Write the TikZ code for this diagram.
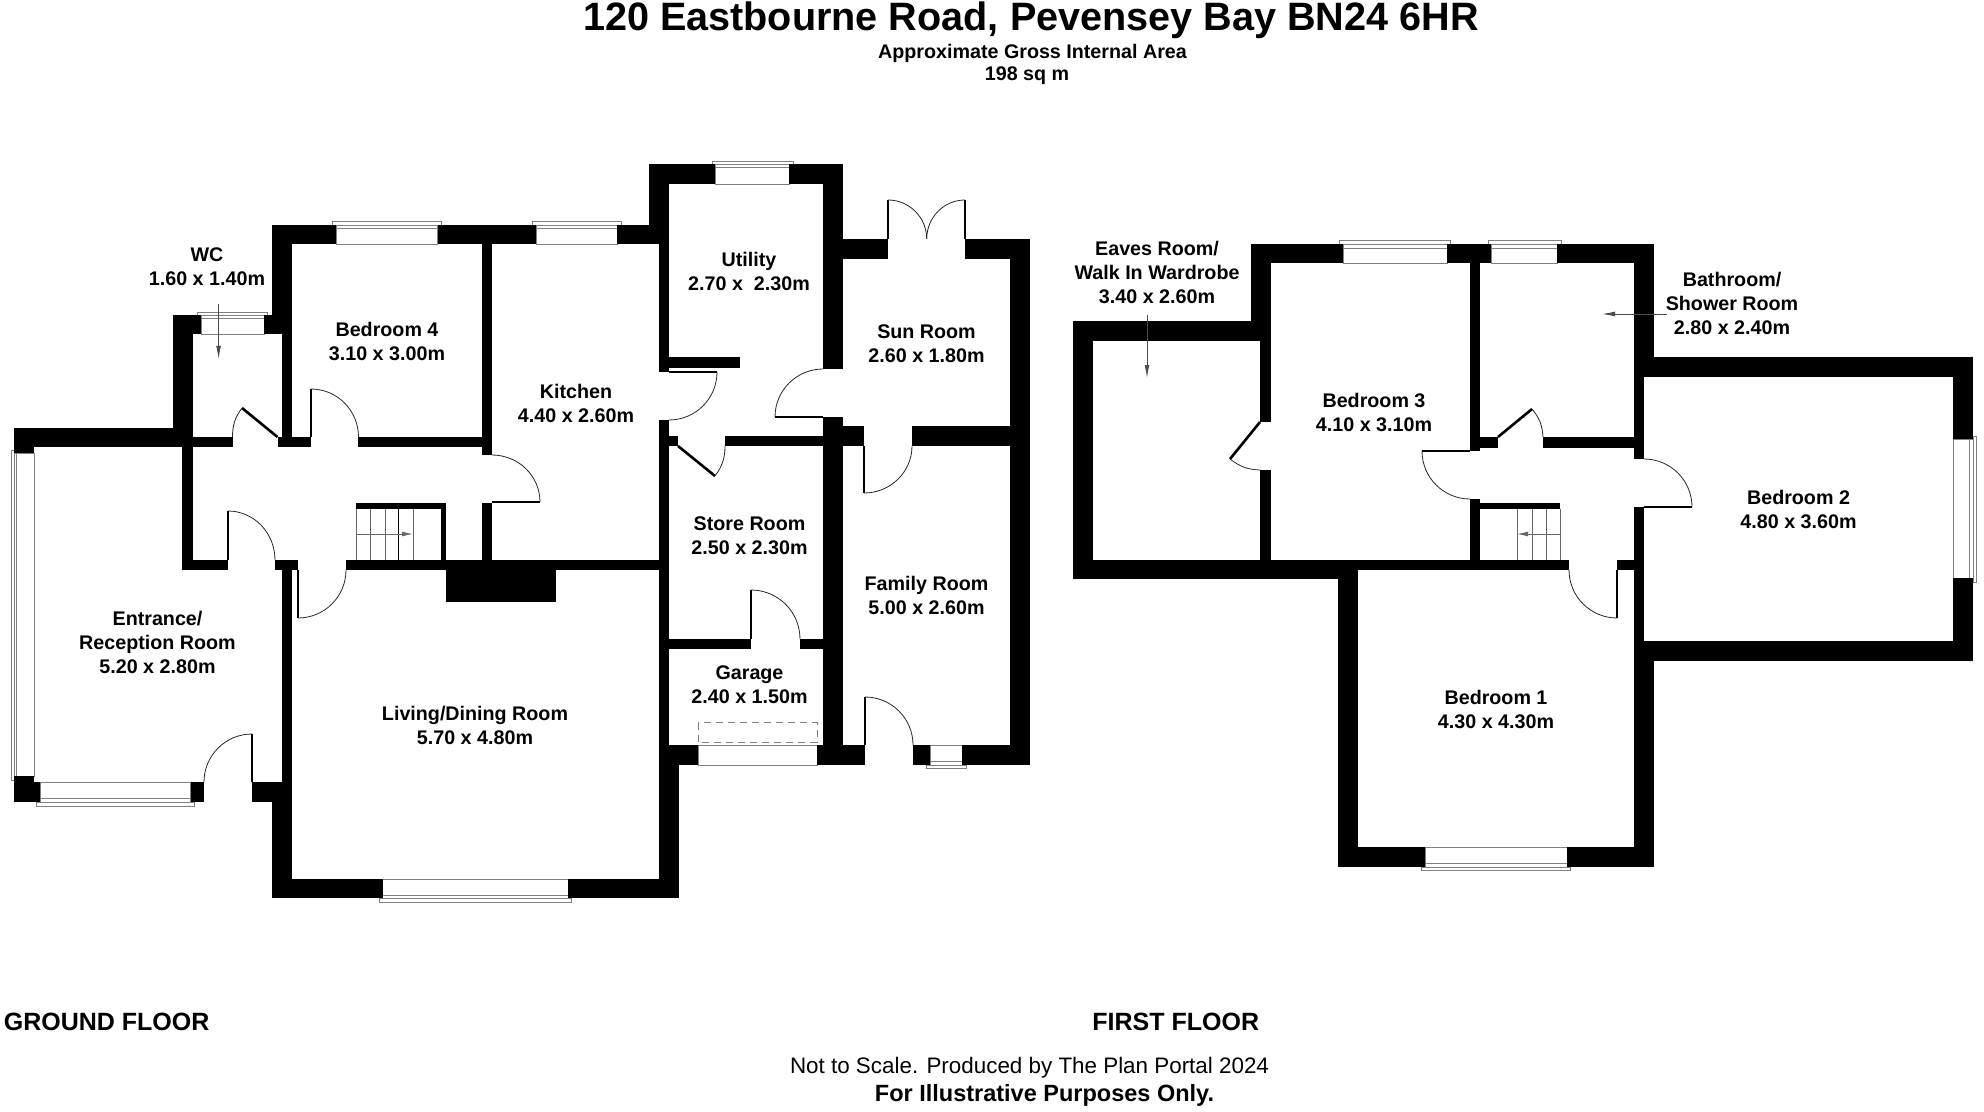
\documentclass[tikz,border=0pt]{standalone}
\usepackage{fontspec}
\setmainfont{Liberation Sans}
\usetikzlibrary{arrows.meta}
\definecolor{fineline}{HTML}{808080}
\newcommand\wall[4]{\fill[black] (#1,#2) rectangle (#3,#4);}
\newcommand\swing[6]{\draw[swingline] (#3,#4) .. controls ({#3+.5523*(#5-#1)},{#4+.5523*(#6-#2)}) and ({#5+.5523*(#3-#1)},{#6+.5523*(#4-#2)}) .. (#5,#6);}
\newcommand\leaf[4]{\draw[leafline] (#1,#2) -- (#3,#4);}
\newcommand\winrect[4]{\draw[winline] (#1,#2) rectangle (#3,#4);}
\newcommand\winline[4]{\draw[winline] (#1,#2) -- (#3,#4);}
\tikzset{
  x=0.5pt,y=-0.5pt,
  room/.style={font=\fontsize{9.85}{12}\selectfont\bfseries,align=center,inner sep=0pt,text=black},
  swingline/.style={line width=0.4pt,black!85},
  leafline/.style={line width=0.8pt,black},
  diagleaf/.style={line width=1.3pt,black},
  winline/.style={line width=0.45pt,fineline},
  stairline/.style={line width=0.45pt,black!60},
  leader/.style={line width=0.4pt,black!70,-{Latex[length=6.5pt,width=2.4pt]}},
  stairarrow/.style={line width=0.4pt,black!60,-{Latex[length=5.5pt,width=2.4pt]}},
}
\begin{document}
\begin{tikzpicture}
\useasboundingbox (0,0) rectangle (1984,1112);
% ---------- windows, ground floor
\winrect{336}{225}{437.5}{244}\winrect{332.5}{221}{441}{225}\winline{336}{228}{437.5}{228}
\winrect{536}{225}{617}{244}\winrect{532.5}{221}{621}{225}\winline{536}{228}{617}{228}
\winrect{201}{315}{264}{334}\winrect{197.5}{312}{267}{315}\winline{201}{318}{264}{318}
\winrect{715}{164}{789}{184}\winrect{712}{161}{793}{164}\winline{715}{167}{789}{167}
\winrect{14}{453}{34}{776}\winrect{11.5}{450}{14.3}{780}\winline{16.5}{453}{16.5}{776}
\winrect{40}{782}{190.6}{802}\winrect{36.6}{802}{194}{806}\winline{40}{798}{190.6}{798}
\winrect{382.6}{879}{568}{898}\winrect{379.5}{898}{571.4}{902}\winline{382.6}{895}{568}{895}
\winrect{698}{745}{817}{765}
\winrect{930}{745}{962}{765}\winrect{926}{765}{966}{768.3}\winline{930}{761.7}{962}{761.7}
\draw[winline,dash pattern=on 3.5pt off 2.5pt] (698,722.7) rectangle (817,742.3);
% ---------- windows, first floor
\winrect{1343}{244}{1447}{263.5}\winrect{1339}{240.7}{1450}{244}\winline{1343}{248}{1447}{248}
\winrect{1491}{244}{1557}{263.5}\winrect{1488}{240.7}{1561}{244}\winline{1491}{248}{1557}{248}
\winrect{1953}{439}{1973}{578}\winrect{1973}{436}{1976.7}{582}\winline{1969.7}{439}{1969.7}{578}
\winrect{1425}{847}{1567}{867}\winrect{1421}{867}{1570.7}{870}\winline{1425}{863}{1567}{863}
% ---------- walls, ground floor
\wall{272}{225}{336}{244}\wall{437.5}{225}{536}{244}\wall{617}{225}{669}{244}
\wall{272}{225}{292}{334}\wall{282}{334}{292}{447}
\wall{172.5}{315}{192.5}{447}\wall{172.5}{315}{201}{334}\wall{264}{315}{282}{334}
\wall{14}{428}{192.5}{447}\wall{14}{447}{34}{453}
\wall{192.5}{437}{232.5}{447}\wall{277.5}{437}{311}{447}\wall{358}{437}{492}{447}
\wall{482}{244}{492}{455}\wall{482}{503}{492}{570}
\wall{182}{447}{192.5}{570}\wall{182}{560}{228}{570}\wall{275}{560}{298}{570}\wall{346}{560}{669}{570}
\wall{446}{570}{556}{602}
\wall{282}{570}{292}{802}\wall{252}{782}{292}{802}\wall{272}{802}{292}{898}
\wall{272}{879}{382.6}{898}\wall{568}{879}{679}{898}\wall{659}{745}{679}{898}
\wall{14}{776}{34}{802}\wall{14}{782}{40}{802}\wall{190.6}{782}{204}{802}
\wall{356}{503}{446}{509}\wall{441}{503}{446}{560}
\wall{649}{164}{715}{184}\wall{789}{164}{843}{184}\wall{649}{164}{669}{244}
\wall{659}{244}{669}{372}\wall{669}{357}{740}{368}\wall{659}{420}{669}{765}
\wall{669}{436}{678}{446}\wall{725}{436}{843}{446}
\wall{823}{164}{843}{369}\wall{823}{417}{843}{765}
\wall{843}{239}{888}{259}\wall{965}{239}{1030}{259}\wall{1010}{239}{1030}{765}
\wall{843}{426}{864}{446}\wall{912}{426}{1010}{446}
\wall{669}{639}{751}{649}\wall{800}{639}{823}{649}
\wall{659}{745}{698}{765}\wall{817}{745}{865}{765}\wall{913}{745}{930}{765}\wall{962}{745}{1030}{765}
% ---------- walls, first floor
\wall{1073}{321}{1093}{579}\wall{1073}{321}{1271}{341}\wall{1251}{244}{1271}{341}
\wall{1260}{341}{1271}{422}\wall{1260}{470}{1271}{560}
\wall{1073}{560}{1338}{579}\wall{1338}{560}{1569}{570}\wall{1617}{560}{1634}{570}
\wall{1338}{570}{1358}{867}\wall{1338}{847}{1425}{867}\wall{1567}{847}{1654}{867}
\wall{1634}{641}{1654}{867}\wall{1634}{507}{1644}{661}
\wall{1251}{244}{1343}{263.5}\wall{1447}{244}{1491}{263.5}\wall{1557}{244}{1654}{263.5}
\wall{1470}{263}{1480}{451}\wall{1480}{437}{1498}{448}\wall{1543}{437}{1634}{448}
\wall{1470}{499}{1480}{560}\wall{1480}{503}{1560}{509}
\wall{1634}{244}{1654}{377}\wall{1634}{357}{1973}{377}\wall{1634}{377}{1644}{459}
\wall{1953}{357}{1973}{439}\wall{1953}{578}{1973}{661}\wall{1634}{641}{1973}{661}
% ---------- doors, ground floor
\draw[diagleaf] (277.5,437) -- (242,408);
\draw[swingline] (242,408) to[bend right=18] (232.5,437);
\leaf{311}{437}{311}{389}\swing{311}{437}{311}{389}{358.5}{437}
\leaf{492}{502}{540}{502}\swing{492}{502}{492}{455}{540}{502}
\leaf{228}{560}{228}{511}\swing{228}{560}{228}{511}{275}{560}
\leaf{298}{570}{298}{618}\swing{298}{570}{298}{618}{346}{570}
\leaf{252}{782}{252}{734}\swing{252}{782}{252}{734}{204}{782}
\leaf{669}{372}{717}{372}\swing{669}{372}{717}{372}{669}{420}
\leaf{823}{417}{775}{417}\swing{823}{417}{775}{417}{823}{369}
\leaf{864}{446}{864}{493}\swing{864}{446}{864}{493}{912}{446}
\leaf{751}{639}{751}{590}\swing{751}{639}{751}{590}{800}{639}
\leaf{888}{239}{888}{200}\swing{888}{239}{888}{200}{926.7}{239}
\leaf{965}{239}{965}{200}\swing{965}{239}{965}{200}{926.7}{239}
\leaf{865}{745}{865}{697}\swing{865}{745}{865}{697}{913}{745}
\draw[diagleaf] (678,446) -- (715,476);
\draw[swingline] (715,476) to[bend right=18] (725,446);
% ---------- doors, first floor
\draw[diagleaf] (1260,422) -- (1230,459);
\draw[swingline] (1230,459) to[bend right=18] (1260,470);
\draw[diagleaf] (1498,437) -- (1532,409);
\draw[swingline] (1532,409) to[bend left=18] (1543,437);
\leaf{1470}{451}{1422}{451}\swing{1470}{451}{1422}{451}{1470}{499}
\leaf{1644}{507}{1692}{507}\swing{1644}{507}{1692}{507}{1644}{459}
\leaf{1617}{570}{1617}{618}\swing{1617}{570}{1617}{618}{1569}{570}
% ---------- stairs
\foreach \sx in {356,370,385,413} \draw[stairline] (\sx,509) -- (\sx,560);
\draw[line width=0.45pt,black] (398.6,509) -- (398.6,560);
\coordinate (gsA) at (356,534); \coordinate (gsB) at (413,534);
\draw[stairarrow] (gsA) -- (gsB);
\foreach \sx in {1517,1532,1546,1560} \draw[stairline] (\sx,509) -- (\sx,560);
\coordinate (fsA) at (1560,534); \coordinate (fsB) at (1517,534);
\draw[stairarrow] (fsA) -- (fsB);
% ---------- leaders
\coordinate (wcA) at (218.6,304); \coordinate (wcB) at (218.6,359);
\draw[leader] (wcA) -- (wcB);
\coordinate (evA) at (1147,315); \coordinate (evB) at (1147,378);
\draw[leader] (evA) -- (evB);
\coordinate (baA) at (1667,314); \coordinate (baB) at (1602,314);
\draw[leader] (baA) -- (baB);
% ---------- room labels
\node[room] (wc) at (207,267) {WC\\1.60 x 1.40m};
\node[room] (bedfour) at (387,341) {Bedroom 4\\3.10 x 3.00m};
\node[room] (kitchen) at (576,403) {Kitchen\\4.40 x 2.60m};
\node[room] (utility) at (749,271) {Utility\\2.70 x\ \ 2.30m};
\node[room] (sun) at (926.5,344) {Sun Room\\2.60 x 1.80m};
\node[room] (store) at (749.5,536) {Store Room\\2.50 x 2.30m};
\node[room] (family) at (926.5,595.5) {Family Room\\5.00 x 2.60m};
\node[room] (garage) at (749.5,684.5) {Garage\\2.40 x 1.50m};
\node[room] (entrance) at (157.5,642) {Entrance/\\Reception Room\\5.20 x 2.80m};
\node[room] (living) at (475,725) {Living/Dining Room\\5.70 x 4.80m};
\node[room] (eaves) at (1157,272) {Eaves Room/\\Walk In Wardrobe\\3.40 x 2.60m};
\node[room] (bedthree) at (1374,412) {Bedroom 3\\4.10 x 3.10m};
\node[room] (bath) at (1732,303) {Bathroom/\\Shower Room\\2.80 x 2.40m};
\node[room] (bedtwo) at (1798.5,509) {Bedroom 2\\4.80 x 3.60m};
\node[room] (bedone) at (1496,709) {Bedroom 1\\4.30 x 4.30m};
% ---------- titles
\node[inner sep=0pt,font=\fontsize{19.8}{23}\selectfont\bfseries] (title) at (1031,20) {120 Eastbourne Road, Pevensey Bay BN24 6HR};
\node[room] (area) at (1032.5,53) {Approximate Gross Internal Area};
\node[room] (sqm) at (1027,76) {198 sq m};
\node[inner sep=0pt,anchor=west,font=\fontsize{12.5}{15}\selectfont\bfseries] (gf) at (3.5,1021.5) {GROUND FLOOR};
\node[inner sep=0pt,anchor=west,font=\fontsize{12.5}{15}\selectfont\bfseries] (ff) at (1092,1021.5) {FIRST FLOOR};
\node[inner sep=0pt,font=\fontsize{11.2}{14}\selectfont] (note) at (1029.5,1068) {Not to Scale. Produced by The Plan Portal 2024};
\node[inner sep=0pt,font=\fontsize{11.75}{14}\selectfont\bfseries] (illus) at (1044.5,1095) {For Illustrative Purposes Only.};
\end{tikzpicture}
\end{document}
